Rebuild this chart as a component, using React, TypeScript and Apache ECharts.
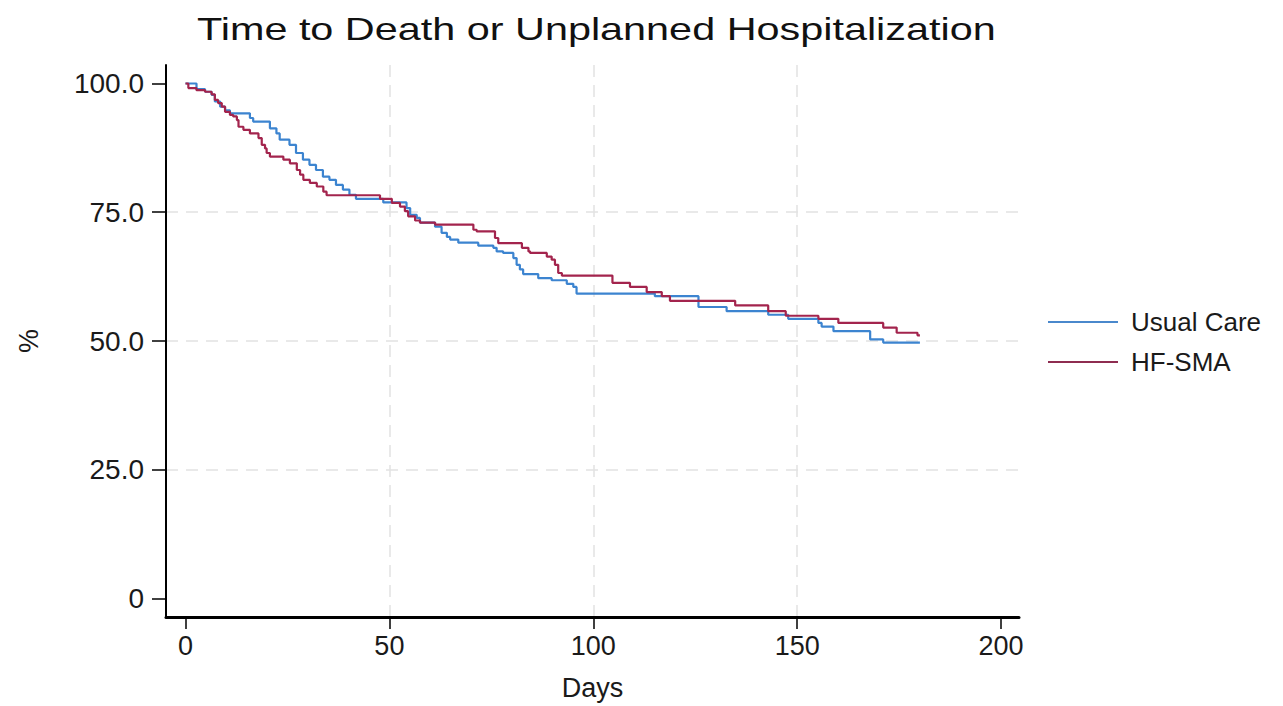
import React, { useEffect, useRef } from "react";
import * as echarts from "echarts";

const titleText = "Time to Death or Unplanned Hospitalization";
const seriesNames = ["Usual Care", "HF-SMA"];
const xTicks = [0, 50, 100, 150, 200];
const yTicks = [0, 25, 50, 75, 100];

// Kaplan-Meier steps: [day, percent event-free from that day on]
const usualCare: [number, number][] = [
  [0, 100], [2.7, 98.9], [4.8, 98.4], [6.4, 97.8], [7.2, 96.5], [8.5, 95.5],
  [9.7, 94.8], [10.9, 94.2], [15.8, 93.3], [16.6, 92.6], [20.7, 91.3],
  [22.3, 90.3], [23.1, 89.1], [25.5, 88.1], [27.1, 86.5], [28.8, 85.2],
  [30.4, 84.2], [32.0, 83.2], [33.7, 81.9], [35.3, 81.3], [36.9, 80.3],
  [38.6, 79.4], [40.2, 78.4], [41.8, 77.6], [48.5, 76.9], [54.2, 75.8],
  [55.1, 74.5], [56.7, 73.9], [57.5, 73.0], [61.2, 72.2], [62.8, 71.0],
  [64.1, 70.2], [64.9, 69.7], [66.9, 69.1], [71.8, 68.5], [75.5, 68.1],
  [76.3, 67.4], [77.9, 67.1], [80.4, 66.1], [81.2, 64.8], [82.0, 63.9],
  [82.8, 63.0], [86.5, 62.2], [89.8, 61.8], [93.5, 61.1], [95.1, 60.5],
  [95.9, 59.2], [115.1, 58.7], [125.8, 56.6], [132.7, 55.8], [142.9, 55.1],
  [147.8, 54.3], [155.2, 53.5], [156.0, 52.8], [158.9, 51.9], [167.9, 50.3],
  [171.1, 49.7], [180.1, 49.7],
];

const hfSma: [number, number][] = [
  [0, 100], [0.7, 99.1], [2.7, 98.7], [4.8, 98.4], [6.4, 97.9], [7.2, 96.8],
  [8.0, 96.2], [8.9, 95.5], [9.7, 94.5], [10.9, 93.9], [11.7, 93.6],
  [12.6, 92.9], [13.0, 91.6], [14.2, 91.0], [15.8, 90.3], [17.9, 89.4],
  [18.7, 88.1], [19.5, 87.4], [19.9, 86.5], [20.7, 85.8], [24.0, 85.2],
  [25.6, 84.5], [27.3, 83.2], [28.1, 82.3], [28.9, 81.3], [30.5, 80.7],
  [32.2, 80.0], [33.8, 79.0], [34.6, 78.3], [47.7, 77.6], [50.6, 76.8],
  [52.6, 76.1], [53.8, 75.2], [54.6, 74.2], [56.3, 73.4], [57.5, 73.0],
  [61.2, 72.6], [70.6, 71.6], [71.4, 71.3], [75.9, 70.0], [76.7, 69.0],
  [82.5, 68.1], [84.1, 67.4], [84.5, 67.1], [88.6, 66.4], [89.8, 65.8],
  [90.6, 64.8], [91.4, 63.2], [92.3, 62.7], [104.7, 61.3], [109.0, 60.5],
  [113.1, 59.5], [116.8, 58.7], [118.8, 57.8], [134.8, 56.9], [142.9, 55.8],
  [147.2, 54.9], [155.2, 54.3], [160.1, 53.5], [171.1, 52.6], [174.4, 51.6],
  [179.5, 51.1], [180.1, 51.1],
];

const colors = ["#3c84d0", "#a3244d"];
const legendColors = ["#4a88cc", "#8e2c50"];
const FONT = "Liberation Sans";

export default function App() {
  const ref = useRef<HTMLDivElement>(null);
  useEffect(() => {
    document.body.style.margin = "0";
    if (!ref.current) return;
    const chart = echarts.init(ref.current, undefined, { renderer: "svg" });
    const grid = { type: [12, 8], color: "#e2e2e2", width: 1.5 };
    chart.setOption({
      animation: false,
      backgroundColor: "#ffffff",
      color: colors,
      grid: { left: 166, right: 264, top: 65, bottom: 88, containLabel: false },
      graphic: [
        {
          type: "text",
          x: 197,
          y: 29,
          scaleX: 1.335,
          style: {
            text: titleText,
            font: `31px "${FONT}"`,
            fill: "#111111",
            textAlign: "left",
            textVerticalAlign: "middle",
          },
        },
      ],
      legend: {
        orient: "vertical",
        left: 1043,
        top: 304,
        itemWidth: 70,
        itemHeight: 2,
        itemGap: 14,
        icon: "rect",
        textStyle: {
          fontFamily: FONT,
          fontSize: 26,
          color: "#1a1a1a",
          padding: [0, 0, 0, 8],
        },
        data: seriesNames.map((n, i) => ({
          name: n,
          itemStyle: { color: legendColors[i] },
        })),
      },
      xAxis: {
        type: "value",
        min: -4.78,
        max: 204.4,
        minInterval: 50,
        maxInterval: 50,
        name: "Days",
        nameLocation: "middle",
        nameGap: 57,
        nameTextStyle: { fontFamily: FONT, fontSize: 27, color: "#1a1a1a" },
        axisLine: { show: true, onZero: false, lineStyle: { color: "#000", width: 3 } },
        axisTick: { show: true, customValues: xTicks, length: 12, lineStyle: { color: "#000", width: 1.5 } },
        axisLabel: {
          customValues: xTicks,
          margin: 15,
          fontFamily: FONT,
          fontSize: 27,
          color: "#1a1a1a",
        },
        splitLine: { show: true, showMinLine: false, showMaxLine: false, lineStyle: grid },
      },
      yAxis: {
        type: "value",
        min: -3.59,
        max: 103.59,
        minInterval: 25,
        maxInterval: 25,
        name: "%",
        nameLocation: "middle",
        nameRotate: 90,
        nameGap: 124,
        nameTextStyle: { fontFamily: FONT, fontSize: 27, color: "#1a1a1a" },
        axisLine: { show: true, onZero: false, lineStyle: { color: "#000", width: 2 } },
        axisTick: { show: true, customValues: yTicks, length: 14, lineStyle: { color: "#000", width: 1.5 } },
        axisLabel: {
          customValues: yTicks,
          margin: 22,
          fontFamily: FONT,
          fontSize: 28,
          color: "#1a1a1a",
          formatter: (v: number) => (v === 0 ? "0" : v.toFixed(1)),
        },
        splitLine: { show: true, showMinLine: false, showMaxLine: false, lineStyle: grid },
      },
      series: [
        {
          name: seriesNames[0],
          type: "line",
          step: "end",
          symbol: "none",
          showSymbol: false,
          lineStyle: { width: 2.2, color: colors[0] },
          itemStyle: { color: colors[0] },
          data: usualCare,
        },
        {
          name: seriesNames[1],
          type: "line",
          step: "end",
          symbol: "none",
          showSymbol: false,
          lineStyle: { width: 2.2, color: colors[1] },
          itemStyle: { color: colors[1] },
          data: hfSma,
        },
      ],
    });
    return () => chart.dispose();
  }, []);
  return <div ref={ref} style={{ width: 1283, height: 706 }} />;
}
